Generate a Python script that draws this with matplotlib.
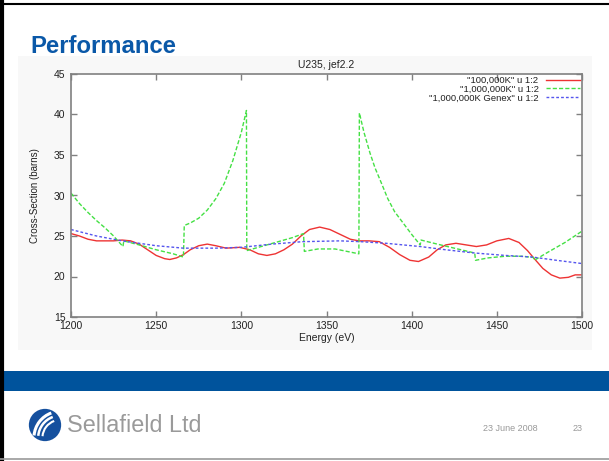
import matplotlib
matplotlib.use("Agg")
import matplotlib.pyplot as plt
from matplotlib.patches import Rectangle, Circle, Arc
from matplotlib.lines import Line2D

plt.rcParams['font.family'] = ['Liberation Sans', 'DejaVu Sans']

# ---------------- data ----------------
red_x = [1200, 1205, 1210, 1215, 1220, 1225, 1230, 1235, 1240, 1245, 1250, 1255, 1258,
         1262, 1266, 1270, 1275, 1280, 1285, 1291, 1299, 1305, 1310, 1315, 1320, 1325,
         1330, 1335, 1340, 1346, 1352, 1358, 1364, 1369, 1375, 1381, 1387, 1393, 1399,
         1404, 1410, 1415, 1420, 1426, 1432, 1438, 1444, 1450, 1457, 1463, 1468, 1472,
         1477, 1482, 1487, 1492, 1496, 1500]
red_y = [25.3, 25.0, 24.6, 24.4, 24.4, 24.4, 24.5, 24.4, 24.0, 23.3, 22.6, 22.2, 22.1,
         22.3, 22.7, 23.3, 23.8, 24.0, 23.8, 23.5, 23.6, 23.3, 22.8, 22.6, 22.8, 23.3,
         24.0, 25.0, 25.8, 26.1, 25.8, 25.2, 24.6, 24.4, 24.4, 24.3, 23.6, 22.7, 22.0,
         21.85, 22.4, 23.3, 23.9, 24.1, 23.9, 23.7, 23.9, 24.4, 24.7, 24.2, 23.2, 22.2,
         21.0, 20.2, 19.8, 19.9, 20.2, 20.2]

green_x = [1200, 1205, 1210, 1215, 1220, 1225, 1230.5, 1231, 1240, 1250, 1260, 1266,
           1266.5, 1270, 1275, 1280, 1285, 1290, 1295, 1300, 1303, 1303.2, 1310, 1320,
           1330, 1336.5, 1337, 1345, 1355, 1362, 1369, 1369.3, 1372, 1375.6, 1378.5,
           1381.5, 1386, 1390, 1395, 1400, 1405, 1405.5, 1415, 1425, 1437, 1437.5, 1445,
           1455, 1465, 1471.5, 1472, 1480, 1490, 1500]
green_y = [30.3, 29.0, 27.9, 26.9, 26.0, 25.0, 23.7, 24.4, 23.9, 23.3, 22.8, 22.4,
           26.3, 26.6, 27.2, 28.2, 29.6, 31.5, 34.3, 37.8, 40.5, 23.2, 23.6, 24.2,
           24.8, 25.3, 23.1, 23.4, 23.4, 23.1, 22.8, 40.2, 37.8, 35.2, 33.4,
           31.9, 29.6, 28.0, 26.6, 25.2, 23.9, 24.5, 24.0, 23.5, 22.9, 22.0, 22.3,
           22.5, 22.5, 22.35, 22.0, 23.0, 24.2, 25.6]

blue_x = [1200, 1215, 1230, 1250, 1266, 1285, 1300, 1318, 1336, 1358, 1370, 1385, 1405,
          1420, 1437, 1455, 1471, 1485, 1500]
blue_y = [25.8, 25.0, 24.4, 23.8, 23.5, 23.5, 23.6, 24.0, 24.3, 24.4, 24.3, 24.1, 23.7,
          23.3, 22.9, 22.6, 22.4, 22.0, 21.6]

series_labels = ['"100,000K" u 1:2', '"1,000,000K" u 1:2', '"1,000,000K Genex" u 1:2']
x_ticks = [1200, 1250, 1300, 1350, 1400, 1450, 1500]
y_ticks = [15, 20, 25, 30, 35, 40, 45]

# ---------------- figure ----------------
W, H = 609, 461
fig = plt.figure(figsize=(W / 100, H / 100), dpi=100)
fig.patch.set_facecolor('white')

# faint chart background (drawn in its own axes behind everything)
bg = fig.add_axes([18 / W, 1 - 350 / H, (592 - 18) / W, (350 - 56) / H], zorder=-5)
bg.set_facecolor('#f8f8f8')
bg.set_xticks([])
bg.set_yticks([])
for s in bg.spines.values():
    s.set_visible(False)

ax = fig.add_axes([71 / W, 1 - 317 / H, (582 - 71) / W, (317 - 74) / H], zorder=1)
ax.set_facecolor('white')

ax.plot(red_x, red_y, color='#ee3333', lw=1.0, label=series_labels[0])
ax.plot(green_x, green_y, color='#44e044', lw=1.0, dashes=(3, 1.5), label=series_labels[1])
ax.plot(blue_x, blue_y, color='#5555ee', lw=1.0, dashes=(2, 1.5), label=series_labels[2])

ax.set_xlim(1200, 1500)
ax.set_ylim(15, 45)
ax.set_xticks(x_ticks)
ax.set_yticks(y_ticks)
ax.tick_params(direction='in', top=True, right=True, length=4, width=1,
               color='#808080', labelsize=7.5, labelcolor='#222222')
ax.tick_params(axis='x', pad=3)
ax.tick_params(axis='y', pad=4)
for s in ax.spines.values():
    s.set_color('#808080')
    s.set_linewidth(1.2)

ax.set_title('U235, jef2.2', fontsize=7.5, color='#222222', pad=4)
ax.set_xlabel('Energy (eV)', fontsize=7.5, color='#222222', labelpad=1)
ax.set_ylabel('Cross-Section (barns)', fontsize=7, color='#222222', labelpad=10)

leg = ax.legend(loc='upper right', markerfirst=False, frameon=False, fontsize=6.8,
                handlelength=3.6, handletextpad=0.8, labelspacing=-0.02,
                borderaxespad=0.1, borderpad=0.1)
for t in leg.get_texts():
    t.set_color('#222222')

# ---------------- slide decorations ----------------
fig.text(30 / W, 1 - 53 / H, 'Performance', fontsize=17.2, fontweight='bold',
         color='#0a58a8', ha='left', va='baseline')

# blue band
fig.add_artist(Rectangle((3 / W, 1 - 391 / H), (W - 3) / W, (391 - 371) / H,
                         transform=fig.transFigure, facecolor='#00539c',
                         edgecolor='none'))

# frame lines
fig.add_artist(Line2D([1.5 / W, 1.5 / W], [0, 1], transform=fig.transFigure,
                      color='black', lw=3))
fig.add_artist(Line2D([0, 1], [1 - 4.5 / H, 1 - 4.5 / H], transform=fig.transFigure,
                      color='black', lw=1.5))
fig.add_artist(Line2D([0, 1], [1 - 459 / H, 1 - 459 / H], transform=fig.transFigure,
                      color='#999999', lw=1.2))

# logo
lax = fig.add_axes([28 / W, 1 - 442 / H, 34 / W, 34 / H])
lax.set_xlim(-1, 1)
lax.set_ylim(-1, 1)
lax.set_aspect('equal')
lax.axis('off')
lax.add_patch(Circle((0, 0), 0.95, facecolor='#15509e', edgecolor='none'))
for r, lw in [(1.55, 2.2), (1.3, 1.8), (1.05, 1.5)]:
    lax.add_patch(Arc((0.9, -0.75), 2 * r, 2 * r, theta1=110, theta2=175,
                      color='white', lw=lw))

fig.text(67 / W, 1 - 425 / H, 'Sellafield Ltd', fontsize=16.8, color='#9a9a9a',
         ha='left', va='center')
fig.text(510 / W, 1 - 428 / H, '23 June 2008', fontsize=6.5, color='#999999',
         ha='center', va='center')
fig.text(578 / W, 1 - 428 / H, '23', fontsize=6.5, color='#999999',
         ha='center', va='center')

fig.savefig('out.png', dpi=100, facecolor='white')
